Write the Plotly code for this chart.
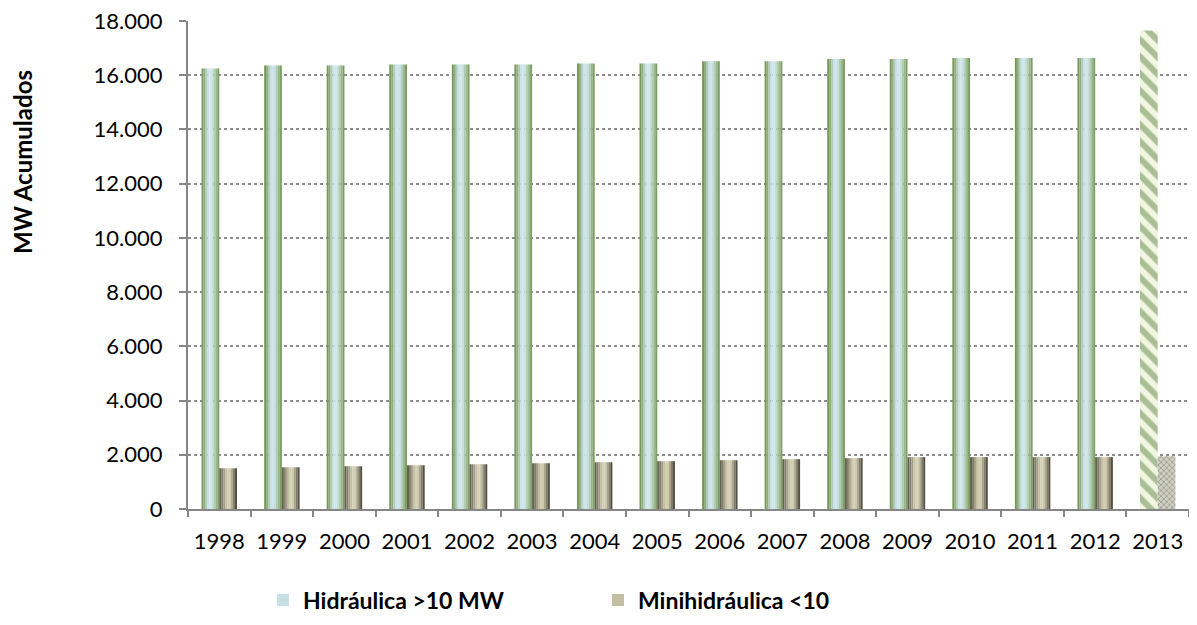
import plotly.graph_objects as go

years = ["1998", "1999", "2000", "2001", "2002", "2003", "2004", "2005",
         "2006", "2007", "2008", "2009", "2010", "2011", "2012", "2013"]
hidraulica = [16246, 16357, 16357, 16394, 16394, 16394, 16431, 16431,
              16520, 16520, 16600, 16600, 16640, 16640, 16640, 17650]
minihidraulica = [1502, 1539, 1576, 1613, 1650, 1687, 1724, 1763,
                  1800, 1838, 1876, 1912, 1914, 1914, 1914, 1950]

series_names = ["Hidráulica >10 MW", "Minihidráulica <10"]
y_title = "MW Acumulados"
y_ticks = [0, 2000, 4000, 6000, 8000, 10000, 12000, 14000, 16000, 18000]

FONT = "Lato"
BAR_W = 0.283
N_SLICES = 9

hydro_stops = [(0.0, (0x6d, 0x8f, 0x4d)), (0.15, (0x8a, 0xa8, 0x74)), (0.35, (0xc4, 0xdf, 0xe4)),
               (0.55, (0xd2, 0xe9, 0xef)), (0.78, (0xa6, 0xc2, 0xa0)), (1.0, (0x70, 0x93, 0x50))]
mini_stops = [(0.0, (0x55, 0x53, 0x44)), (0.2, (0x8c, 0x88, 0x72)), (0.45, (0xd4, 0xcf, 0xb4)),
              (0.62, (0xcf, 0xca, 0xae)), (0.82, (0x86, 0x82, 0x6c)), (1.0, (0x3e, 0x3d, 0x30))]


def grad(stops, t):
    for (t0, c0), (t1, c1) in zip(stops[:-1], stops[1:]):
        if t0 <= t <= t1:
            f = (t - t0) / (t1 - t0) if t1 > t0 else 0
            c = [round(a + (b - a) * f) for a, b in zip(c0, c1)]
            return "rgb(%d,%d,%d)" % tuple(c)
    return "rgb(%d,%d,%d)" % stops[-1][1]


fig = go.Figure()

hist_years = years[:-1]
for s_idx, (vals, stops, base_off) in enumerate([(hidraulica, hydro_stops, -BAR_W),
                                                  (minihidraulica, mini_stops, 0.0)]):
    sw = BAR_W / N_SLICES
    for i in range(N_SLICES):
        t = (i + 0.5) / N_SLICES
        fig.add_trace(go.Bar(
            x=hist_years, y=vals[:-1],
            offset=base_off + i * sw, width=sw * 1.02,
            marker=dict(color=grad(stops, t), line=dict(width=0)),
            name=series_names[s_idx],
            legendgroup=series_names[s_idx],
            showlegend=(i == 3),
            hoverinfo="y",
        ))

# 2013 (patterned bars)
fig.add_trace(go.Bar(
    x=years[-1:], y=hidraulica[-1:], offset=-BAR_W, width=BAR_W,
    marker=dict(color="#f0f6e0", line=dict(width=0),
                pattern=dict(shape="\\", fgcolor="#64854a", bgcolor="#f0f6e0",
                             size=12, solidity=0.5)),
    name=series_names[0], legendgroup=series_names[0], showlegend=False,
))
fig.add_trace(go.Bar(
    x=years[-1:], y=minihidraulica[-1:], offset=0.0, width=BAR_W,
    marker=dict(color="#bdbdb0", line=dict(width=0),
                pattern=dict(shape="x", fgcolor="#6a6a5c", bgcolor="#cfcfc4",
                             size=4, solidity=0.4)),
    name=series_names[1], legendgroup=series_names[1], showlegend=False,
))

# page offsets: the figure sits 8px in from the page corner
FIG_W, FIG_H = 1181, 609
PLOT_L, PLOT_T, PLOT_B = 188, 21, 509
PLOT_W = FIG_W + 8 - PLOT_L
PLOT_H = PLOT_B - PLOT_T


def px_x(px):
    return (px - PLOT_L) / PLOT_W


def px_y(py):
    return (PLOT_B - py) / PLOT_H


fig.add_annotation(
    text=y_title, textangle=-90, xref="paper", yref="paper",
    x=px_x(23), y=px_y(162), xanchor="center", yanchor="middle",
    showarrow=False, font=dict(family=FONT, size=24, color="black", weight="bold"),
)

fig.update_layout(
    width=FIG_W, height=FIG_H,
    barmode="overlay",
    separators=",.",
    plot_bgcolor="white", paper_bgcolor="white",
    margin=dict(l=PLOT_L - 8, r=0, t=PLOT_T - 8, b=FIG_H - (PLOT_B - 8), autoexpand=False),
    font=dict(family=FONT, color="black"),
    showlegend=True,
    legend=dict(orientation="h", x=px_x(598), xanchor="center", y=px_y(600), yanchor="middle",
                font=dict(family=FONT, size=23, color="black", weight="bold"),
                itemwidth=30, traceorder="normal", entrywidth=290),
    xaxis=dict(
        type="category", categoryorder="array", categoryarray=years,
        range=[-0.5, 15.5], automargin=False,
        showline=True, linecolor="#868686", linewidth=2,
        ticks="outside", tickson="boundaries", ticklen=6, tickcolor="#868686", tickwidth=2,
        tickfont=dict(family=FONT, size=22, color="black"), ticklabelstandoff=12,
        showgrid=False,
    ),
    yaxis=dict(
        range=[0, 18000.5], tickmode="array", tickvals=y_ticks, tickformat=",.0f",
        automargin=False, ticklabeloverflow="allow",
        showline=True, linecolor="#868686", linewidth=2,
        ticks="outside", ticklen=7, tickcolor="#868686", tickwidth=2,
        tickfont=dict(family=FONT, size=22, color="black"), ticklabelstandoff=12,
        showgrid=True, gridcolor="#8c8c8c", griddash="dot", gridwidth=1.5,
        zeroline=False,
    ),
)

fig.write_html("out.html")
